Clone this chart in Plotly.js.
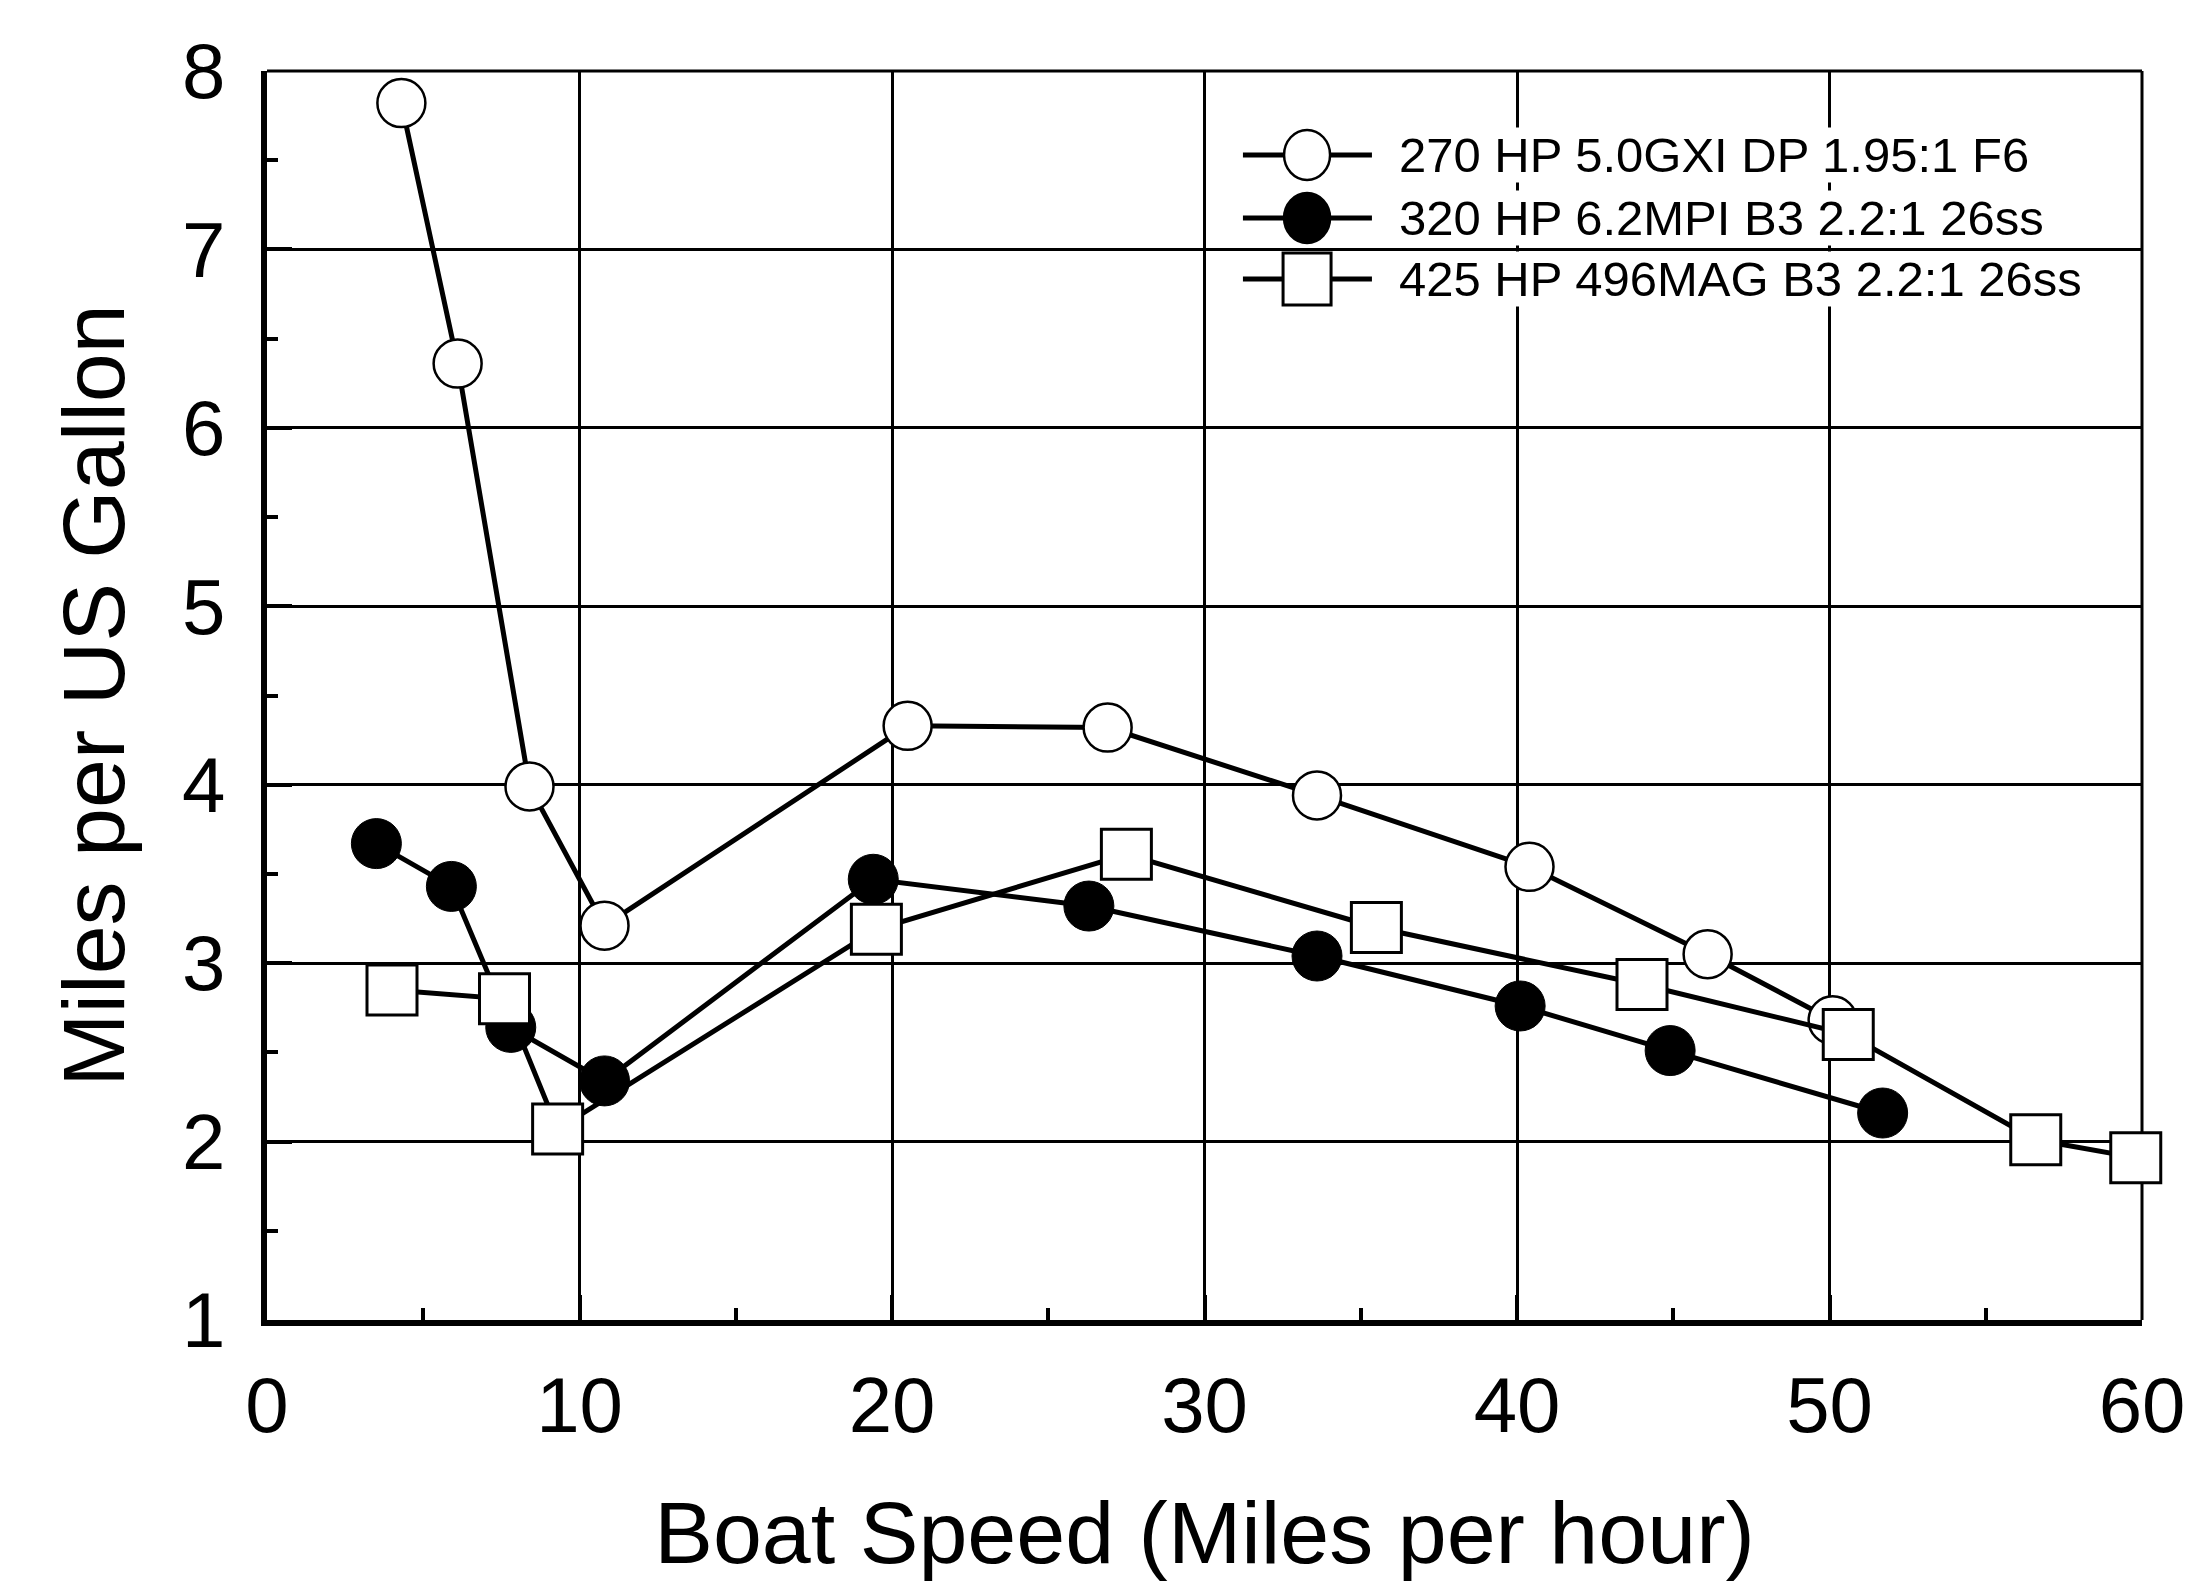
<!DOCTYPE html>
<html>
<head>
<meta charset="utf-8">
<script src="https://cdn.plot.ly/plotly-3.0.1.min.js"></script>
<style>
html,body{margin:0;padding:0;background:#ffffff;}
#chart{width:2195px;height:1582px;}
</style>
</head>
<body>
<div id="chart"></div>
<script>
// ---- data ----
const seriesNames = [
  "270 HP 5.0GXI DP 1.95:1 F6",
  "320 HP 6.2MPI B3 2.2:1 26ss",
  "425 HP 496MAG B3 2.2:1 26ss"
];
const speed270 = [4.3, 6.1, 8.4, 10.8, 20.5, 26.9, 33.6, 40.4, 46.1, 50.1];
const mpg270   = [7.82, 6.36, 3.99, 3.21, 4.33, 4.32, 3.94, 3.54, 3.05, 2.68];
const speed320 = [3.5, 5.9, 7.8, 10.8, 19.4, 26.3, 33.6, 40.1, 44.9, 51.7];
const mpg320   = [3.67, 3.43, 2.64, 2.34, 3.47, 3.32, 3.04, 2.76, 2.51, 2.16];
const speed425 = [4.0, 7.6, 9.3, 19.5, 27.5, 35.5, 44.0, 50.6, 56.6, 59.8];
const mpg425   = [2.85, 2.80, 2.07, 3.19, 3.61, 3.20, 2.88, 2.60, 2.01, 1.91];
const xTickVals = [0, 10, 20, 30, 40, 50, 60];
const yTickVals = [1, 2, 3, 4, 5, 6, 7, 8];
const xTitle = "Boat Speed (Miles per hour)";
const yTitle = "Miles per US Gallon";

// ---- styles ----
const BLACK = "#000000";
const lineStyle = {color: BLACK, width: 5};
const markerStyles = [
  {symbol: "circle", size: 48, color: "#ffffff", line: {color: BLACK, width: 2.5}},
  {symbol: "circle", size: 50, color: BLACK, line: {color: BLACK, width: 1}},
  {symbol: "square", size: 50, color: "#ffffff", line: {color: BLACK, width: 3}}
];
const xs = [speed270, speed320, speed425];
const ys = [mpg270, mpg320, mpg425];

const traces = seriesNames.map((name, i) => ({
  type: "scatter",
  mode: "lines+markers",
  name: name,
  x: xs[i],
  y: ys[i],
  line: lineStyle,
  marker: markerStyles[i],
  cliponaxis: false,
  showlegend: false
}));

// ---- frame: top and right edges are thin grid-weight lines ----
const shapes = [
  {type: "line", xref: "paper", yref: "paper", x0: 0, x1: 1, y0: 1, y1: 1, line: {color: BLACK, width: 3}, layer: "below"},
  {type: "line", xref: "paper", yref: "paper", x0: 1, x1: 1, y0: 0, y1: 1, line: {color: BLACK, width: 3}, layer: "below"}
];
const annotations = [];

// ---- hand-drawn legend (symbol size matches the reference) ----
const legX0 = 0.5205, legX1 = 0.5893, legMarkX = 0.5547, legTextX = 0.6032;
const legRowY = [0.9328, 0.8823, 0.8335];
seriesNames.forEach((name, i) => {
  shapes.push({type: "line", xref: "paper", yref: "paper",
    x0: legX0, x1: legX1, y0: legRowY[i], y1: legRowY[i],
    line: {color: BLACK, width: 5}});
  const isSquare = markerStyles[i].symbol === "square";
  shapes.push({type: isSquare ? "rect" : "circle", xref: "paper", yref: "paper",
    xsizemode: "pixel", ysizemode: "pixel", xanchor: legMarkX, yanchor: legRowY[i],
    x0: isSquare ? -24 : -23, x1: isSquare ? 24 : 23, y0: isSquare ? -26 : -25, y1: isSquare ? 26 : 25,
    fillcolor: markerStyles[i].color, line: {color: BLACK, width: isSquare ? 3 : 2.5}});
  annotations.push({xref: "paper", yref: "paper", x: legTextX, y: legRowY[i],
    xanchor: "left", yanchor: "middle", showarrow: false, text: name,
    bgcolor: "#ffffff", borderpad: 0,
    font: {family: "Liberation Sans, Arial, sans-serif", size: 49, color: BLACK}});
});

const tickFont = {family: "Liberation Sans, Arial, sans-serif", size: 78, color: BLACK};
const titleFont = {family: "Liberation Sans, Arial, sans-serif", size: 88, color: BLACK};

const layout = {
  width: 2195,
  height: 1582,
  margin: {l: 267, r: 53, t: 71, b: 262, pad: 0},
  paper_bgcolor: "#ffffff",
  plot_bgcolor: "#ffffff",
  showlegend: false,
  xaxis: {
    range: [0, 60],
    tickmode: "array",
    tickvals: xTickVals,
    ticktext: xTickVals.map(String),
    showgrid: true, gridcolor: BLACK, gridwidth: 3,
    zeroline: false,
    showline: true, linecolor: BLACK, linewidth: 6,
    ticks: "inside", ticklen: 25, tickwidth: 4, tickcolor: BLACK,
    minor: {dtick: 5, ticks: "inside", ticklen: 12, tickwidth: 4, tickcolor: BLACK, showgrid: false},
    tickfont: tickFont,
    ticklabelstandoff: 12,
    automargin: false,
    title: {text: xTitle, font: titleFont, standoff: 100}
  },
  yaxis: {
    range: [1, 8],
    tickmode: "array",
    tickvals: yTickVals,
    ticktext: yTickVals.map(String),
    showgrid: true, gridcolor: BLACK, gridwidth: 3,
    zeroline: false,
    showline: true, linecolor: BLACK, linewidth: 6,
    ticks: "inside", ticklen: 25, tickwidth: 4, tickcolor: BLACK,
    minor: {dtick: 0.5, ticks: "inside", ticklen: 11, tickwidth: 4, tickcolor: BLACK, showgrid: false},
    tickfont: tickFont,
    ticklabelstandoff: 20,
    automargin: false,
    title: {text: yTitle, font: titleFont, standoff: 30}
  },
  shapes: shapes,
  annotations: annotations
};

Plotly.newPlot("chart", traces, layout, {staticPlot: true, displayModeBar: false});
</script>
</body>
</html>
